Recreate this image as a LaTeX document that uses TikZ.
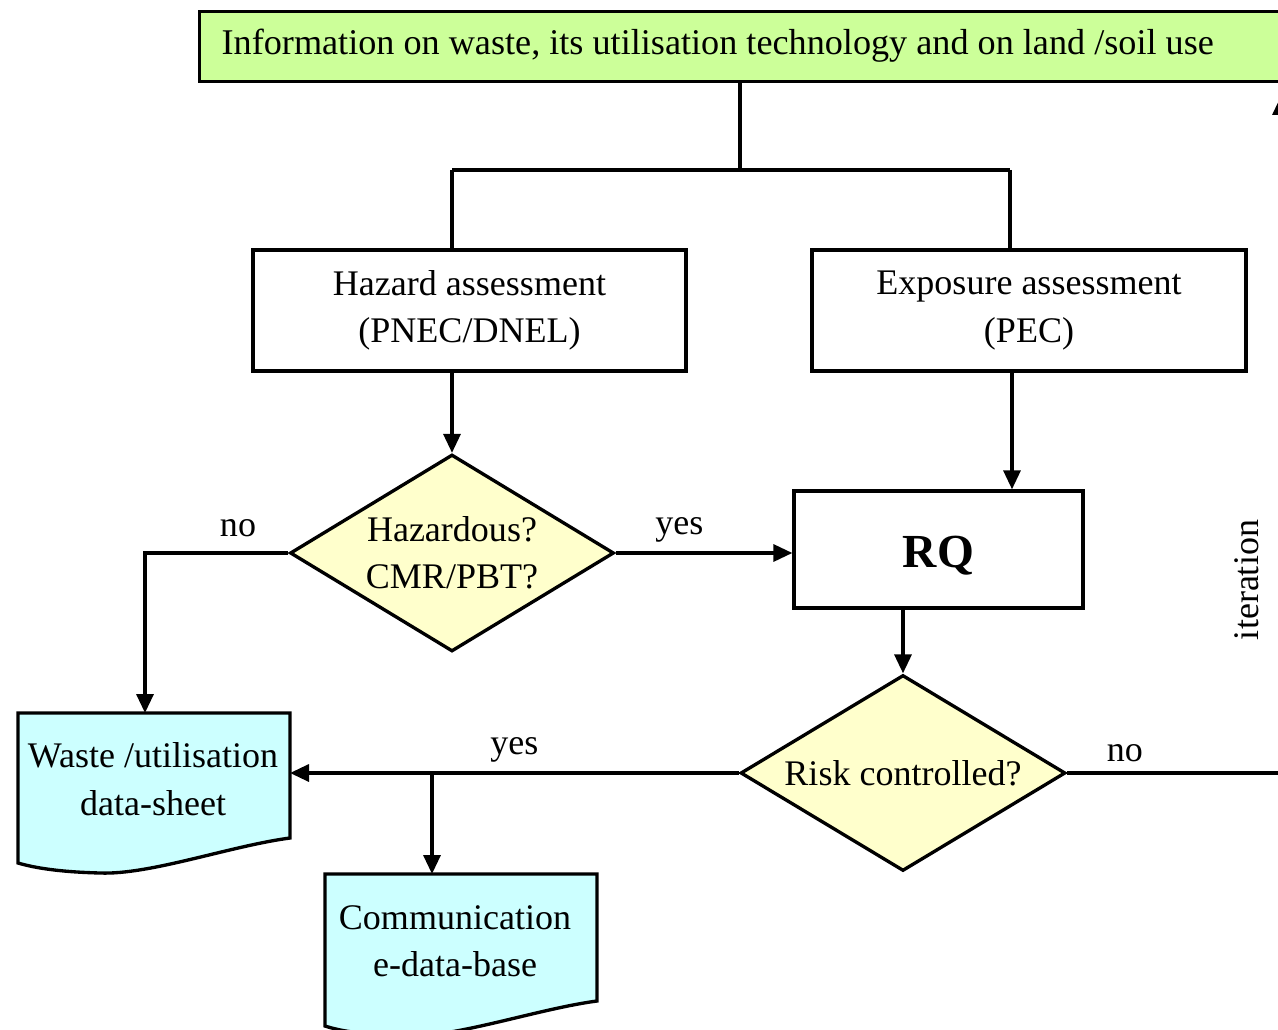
\documentclass[tikz,border=0pt]{standalone}
\usepackage{fontspec}
\setmainfont{Liberation Serif}
\usetikzlibrary{shapes.geometric,arrows.meta}

\definecolor{infogreen}{HTML}{CCFF99}
\definecolor{decyellow}{HTML}{FFFFCC}
\definecolor{doccyan}{HTML}{CCFFFF}

\begin{document}
\begin{tikzpicture}[x=0.02cm,y=-0.02cm,
    line width=1.9pt,
    txt/.style={font=\fontsize{20.5}{27}\selectfont, align=center},
    procbox/.style={draw, fill=white, inner sep=0pt, txt},
    decision/.style={draw, fill=decyellow, diamond, inner sep=0pt, txt},
    doctext/.style={txt, inner sep=0pt},
    arr/.style={-{Triangle[length=0.38cm,width=0.34cm]}},
    lbl/.style={font=\fontsize{20.5}{24}\selectfont}]

  \useasboundingbox (0,0) rectangle (1278,1030);

  % top information bar (runs off the right edge)
  \node[draw, fill=infogreen, anchor=north west, inner sep=0pt,
        minimum width=21.9cm, minimum height=1.4cm] (info) at (198,10) {};
  \node[anchor=west, inner sep=0pt, font=\fontsize{20.6}{24}\selectfont] (infotext) at (220,46)
    {Information on waste, its utilisation technology and on land /soil use};

  % assessment boxes
  \node[procbox, minimum width=8.66cm, minimum height=2.42cm] (haz) at (469.5,310.5)
    {Hazard assessment\\(PNEC/DNEL)};
  \node[procbox, minimum width=8.68cm, minimum height=2.42cm] (exp) at (1029,310.5)
    {Exposure assessment\\(PEC)};

  % split from the information bar
  \coordinate (split) at (740,170);
  \coordinate (splitL) at (452,170);
  \coordinate (splitR) at (1010,170);
  \draw (info.south -| split) -- (split);
  \draw (splitL) -- (splitR);
  \draw (splitL) -- (splitL |- haz.north);
  \draw (splitR) -- (splitR |- exp.north);

  % hazard decision
  \node[decision, minimum width=6.48cm, minimum height=3.94cm, aspect=1.645] (hazq) at (452,553)
    {Hazardous?\\CMR/PBT?};
  \draw[arr] (haz.south -| hazq.north) -- (hazq.north);

  % RQ
  \node[procbox, minimum width=5.78cm, minimum height=2.34cm, text height=20pt, text depth=0pt,
        font=\fontsize{27}{30}\selectfont\bfseries] (rq) at (938.5,549.5) {RQ};
  \draw[arr] (exp.south -| 1012,0) -- (rq.north -| 1012,0);
  \draw[arr] (hazq.east) -- node[lbl, above, pos=0.36, yshift=2pt] {yes} (hazq.east -| rq.west);

  % risk decision
  \node[decision, minimum width=6.5cm, minimum height=3.92cm, aspect=1.66] (riskq) at (903,773)
    {Risk controlled?};
  \draw[arr] (rq.south -| riskq.north) -- (riskq.north);

  % waste / utilisation data-sheet (document shape)
  \coordinate (wasteNW) at (18,713);
  \coordinate (wasteNE) at (290,713);
  \draw[fill=doccyan] (wasteNW) -- (wasteNE) -- (290,838)
    .. controls (230,846) and (150,875) .. (100,873)
    .. controls (60,872) and (35,868) .. (18,863) -- cycle;
  \node[doctext] (waste) at (153,779) {Waste /utilisation\\data-sheet};

  % communication data-base (document shape)
  \coordinate (commNW) at (325,874);
  \coordinate (commNE) at (597,874);
  \draw[fill=doccyan] (commNW) -- (commNE) -- (597,1001)
    .. controls (537,1009) and (455,1038) .. (405,1036)
    .. controls (365,1035) and (340,1031) .. (325,1026) -- cycle;
  \node[doctext] (comm) at (455,941) {Communication\\e-data-base};

  % "no" branch of the hazard decision
  \coordinate (noH) at (145,553);
  \draw[arr] (hazq.west) -- (noH) -- (noH |- wasteNW);
  \node[lbl] (noHlbl) at (238,528) {no};

  % "yes" branch of the risk decision
  \coordinate (yesTap) at (432,773);
  \draw[arr] (riskq.west) -- node[lbl, above, pos=0.5, yshift=2pt] {yes} (riskq.west -| wasteNE);
  \draw[arr] (yesTap) -- (yesTap |- commNW);

  % "no" branch of the risk decision: iteration back to the top
  \coordinate (iterLow) at (1281,773);
  \coordinate (iterTop) at (1281,96);
  \draw (riskq.east) -- node[lbl, above, pos=0.27, yshift=2pt] {no} (iterLow);
  \draw[arr] (iterLow) -- (iterTop);
  \node[lbl, rotate=90] (iter) at (1247,580) {iteration};
\end{tikzpicture}
\end{document}
